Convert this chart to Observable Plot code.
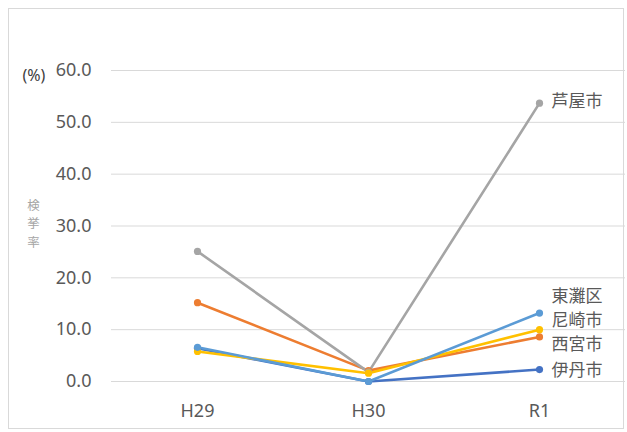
<!DOCTYPE html>
<html>
<head>
<meta charset="utf-8">
<script src="https://cdn.jsdelivr.net/npm/d3@7"></script>
<script src="https://cdn.jsdelivr.net/npm/@observablehq/plot@0.6"></script>
<style>
  html, body { margin: 0; padding: 0; background: #fff; }
  #wrap { position: relative; width: 627px; height: 432px; }
  #frame { position: absolute; left: 8px; top: 8px; width: 616px; height: 421px; border: 1px solid #d9d9d9; box-sizing: border-box; }
  #chart { position: absolute; left: 0; top: 0; }
</style>
</head>
<body>
<div id="wrap"><div id="frame"></div><div id="chart"></div></div>
<script>
const years = ["H29", "H30", "R1"];
const cities = ["伊丹市", "西宮市", "芦屋市", "尼崎市", "東灘区"];
const itami = [6.4, 0.0, 2.3];
const nishinomiya = [15.2, 2.1, 8.6];
const ashiya = [25.1, 1.8, 53.7];
const amagasaki = [5.8, 1.6, 10.0];
const higashinada = [6.6, 0.0, 13.2];
const cityColors = ["#4472C4", "#ED7D31", "#A5A5A5", "#FFC000", "#5B9BD5"];
const yTicks = [0, 10, 20, 30, 40, 50, 60];
const yUnit = "(%)";
const yTitleChars = ["検", "挙", "率"];

const series = [itami, nishinomiya, ashiya, amagasaki, higashinada];
const data = [];
cities.forEach((c, i) => years.forEach((yr, j) => data.push({city: c, year: yr, value: series[i][j]})));
const last = data.filter(d => d.year === "R1");
const labelOffsets = {"芦屋市": -2, "東灘区": -17, "尼崎市": -9, "西宮市": 8, "伊丹市": 1};

const font = "'Noto Sans', 'Noto Sans CJK JP', sans-serif";

const chart = Plot.plot({
  width: 627,
  height: 432,
  marginLeft: 111,
  marginRight: 2,
  marginTop: 70,
  marginBottom: 51,
  style: {fontFamily: font, background: "transparent", overflow: "visible"},
  x: {type: "point", domain: years, padding: 0.5, label: null},
  y: {domain: [0, 60], ticks: yTicks, label: null},
  color: {domain: cities, range: cityColors},
  marks: [
    Plot.gridY(yTicks, {stroke: "#d9d9d9", strokeOpacity: 1, strokeWidth: 1}),
    Plot.axisY(yTicks, {tickSize: 0, tickPadding: 20, tickFormat: d => d.toFixed(1), fontSize: 18, fill: "#595959", label: null}),
    Plot.axisX({tickSize: 0, tickPadding: 23, fontSize: 18, fill: "#595959", label: null}),
    Plot.text([yUnit], {frameAnchor: "top-left", dx: -89, dy: -1, textAnchor: "start", fontSize: 16, fill: "#404040"}),
    ...yTitleChars.map((ch, i) => Plot.text([ch], {
      frameAnchor: "left", dx: -78, dy: -20.5 + i * 18.5, textAnchor: "middle",
      fontSize: 12.5, fill: "#a6a6a6", fontFamily: "'Noto Sans CJK JP', sans-serif"
    })),
    Plot.line(data, {x: "year", y: "value", z: "city", stroke: "city", strokeWidth: 2.6}),
    Plot.dot(data, {x: "year", y: "value", fill: "city", r: 3.6}),
    ...cities.map(c => Plot.text(last.filter(d => d.city === c), {
      x: "year", y: "value", text: "city", dx: 12, dy: labelOffsets[c],
      textAnchor: "start", fontSize: 17, fill: "#595959", fontFamily: "'Noto Sans CJK JP', sans-serif"
    }))
  ]
});
document.getElementById("chart").appendChild(chart);
</script>
</body>
</html>
